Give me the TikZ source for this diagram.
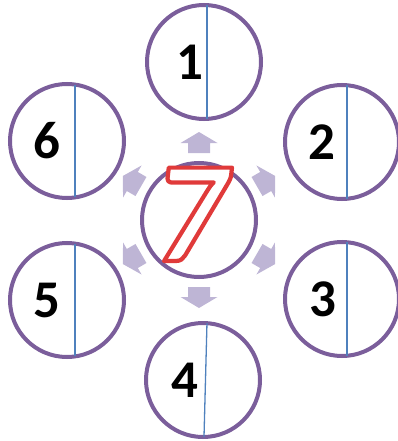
\documentclass[tikz,border=0pt]{standalone}
\usepackage{fontspec}
\setmainfont{Carlito}
\definecolor{ringpurple}{HTML}{7B5E9B}
\definecolor{splitblue}{HTML}{4F81BD}
\definecolor{arrowlilac}{HTML}{BEB5D5}
% outlined text: fill colour, then stroke in the given RGB
\newcommand{\outlinetext}[3]{\textcolor{#1}{\special{pdf:literal direct 2 Tr 4.2 w 1 J 1 j #2 RG}#3\special{pdf:literal direct 0 Tr}}}
\begin{document}
\begin{tikzpicture}[x=1pt,y=-1pt,inner sep=0pt,outer sep=0pt,
ring/.style={draw=ringpurple,circle,line width=4pt,minimum size=114pt},
split/.style={draw=splitblue,line width=1.3pt},
digit/.style={font=\fontsize{53}{53}\selectfont\bfseries},
bigdigit/.style={anchor=base,font=\fontsize{144}{144}\selectfont\bfseries\itshape},
pointer/.style={fill=arrowlilac}]
\useasboundingbox (0,0) rectangle (398,441);
\draw (199,220) node[ring] (c7) {};
\draw (204,62) node[ring] (c1) {};
\draw (342,142) node[ring] (c2) {};
\draw (342,299) node[ring] (c3) {};
\draw (203,380) node[ring] (c4) {};
\draw (67,300) node[ring] (c5) {};
\draw (67,141) node[ring] (c6) {};
% split lines
\draw[split] (c1.87) -- (c1.-87);
\draw[split] (c2.85) -- (c2.-85);
\draw[split] (c3.85) -- (c3.-85);
\draw[split] (c4.86) -- (c4.-89);
\draw[split] (c5.82) -- (c5.-82);
\draw[split] (c6.82) -- (c6.-82);
% numbers
\draw ([xshift=-14pt]c1.center) node[digit] (n1) {1};
\draw ([xshift=-20pt]c2.center) node[digit] (n2) {2};
\draw ([xshift=-19pt]c3.center) node[digit] (n3) {3};
\draw ([xshift=-18pt]c4.center) node[digit] (n4) {4};
\draw ([xshift=-20pt]c5.center) node[digit] (n5) {5};
\draw ([xshift=-20pt]c6.center) node[digit] (n6) {6};
% arrows out of the middle
\foreach \a in {90,30,-30,-90,-150,150}
  \fill[pointer,shift={(c7.center)},rotate=\a] (67,-11) -- (77,-11) -- (77,-18.5) -- (88,0) -- (77,18.5) -- (77,11) -- (67,11) -- cycle;
% the seven
\draw (190,261) node[bigdigit] (n7) {\outlinetext{white}{0.878 0.227 0.227}{7}};
\end{tikzpicture}
\end{document}
